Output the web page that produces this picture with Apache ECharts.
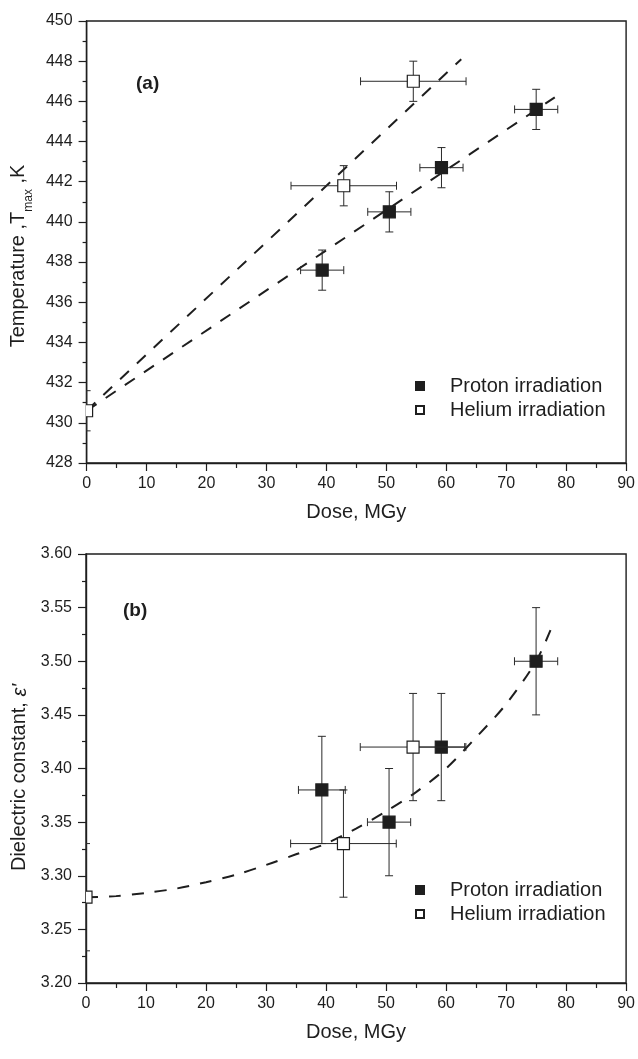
<!DOCTYPE html>
<html>
<head>
<meta charset="utf-8">
<script src="https://cdn.jsdelivr.net/npm/echarts@6/dist/echarts.min.js"></script>
<style>
  html, body { margin: 0; padding: 0; background: #ffffff; }
  #chart { width: 638px; height: 1059px; }
</style>
</head>
<body>
<div id="chart"></div>
<script>
// ---------- Panel (a): Tmax vs dose ----------
const protonDoseA     = [39.3, 50.5, 59.2, 75.0];
const protonDoseErrA  = [3.6, 3.6, 3.6, 3.6];
const protonTmax      = [437.6, 440.5, 442.7, 445.6];
const protonTmaxErr   = [1.0, 1.0, 1.0, 1.0];

const heliumDoseA     = [0, 42.9, 54.5];
const heliumDoseErrA  = [0, 8.8, 8.8];
const heliumTmax      = [430.6, 441.8, 447.0];
const heliumTmaxErr   = [1.0, 1.0, 1.0];

const protonFitDoseA  = [0, 78.1];
const protonFitTmax   = [430.6, 446.2];
const heliumFitDoseA  = [0, 62.5];
const heliumFitTmax   = [430.6, 448.1];

// ---------- Panel (b): dielectric constant vs dose ----------
const protonDoseB     = [39.3, 50.5, 59.2, 75.0];
const protonDoseErrB  = [3.9, 3.6, 3.9, 3.6];
const protonEps       = [3.38, 3.35, 3.42, 3.50];
const protonEpsErr    = [0.05, 0.05, 0.05, 0.05];

const heliumDoseB     = [0, 42.9, 54.5];
const heliumDoseErrB  = [0, 8.8, 8.8];
const heliumEps       = [3.28, 3.33, 3.42];
const heliumEpsErr    = [0.05, 0.05, 0.05];

const fitDoseB = [0, 5, 10, 15, 20, 25, 30, 35, 40, 45, 50, 55, 60, 65, 70, 75, 77.7];
const fitEps   = [3.280, 3.281, 3.284, 3.288, 3.294, 3.301, 3.310, 3.320, 3.330, 3.344, 3.360, 3.378, 3.400, 3.429, 3.460, 3.500, 3.533];

// ---------- Axes ----------
const doseMin = 0, doseMax = 90, doseStep = 10;
const tmaxMin = 428, tmaxMax = 450, tmaxStep = 2;
const epsMin = 3.20, epsMax = 3.60, epsStep = 0.05;

const seriesNames = ['Proton irradiation', 'Helium irradiation'];

// ---------- helpers ----------
const FONT = 'Liberation Sans, Arial, Helvetica, sans-serif';
const INK = '#1e1e1e';
const DASH = [12, 11];

function rows(xs, ys, exs, eys) {
  return xs.map((x, i) => [x, ys[i], exs[i], eys[i]]);
}
function pairs(xs, ys) {
  return xs.map((x, i) => [x, ys[i]]);
}

function errorRenderer(fill, stroke) {
  return function (params, api) {
    const x = api.value(0), y = api.value(1), ex = api.value(2), ey = api.value(3);
    const p = api.coord([x, y]);
    const cap = 4, half = 6;
    const ls = { stroke: '#2a2a2a', lineWidth: 1 };
    const ch = [];
    if (ex > 0) {
      const l = api.coord([x - ex, y]);
      const r = api.coord([x + ex, y]);
      ch.push({ type: 'line', shape: { x1: l[0], y1: l[1], x2: r[0], y2: r[1] }, style: ls });
      ch.push({ type: 'line', shape: { x1: l[0], y1: l[1] - cap, x2: l[0], y2: l[1] + cap }, style: ls });
      ch.push({ type: 'line', shape: { x1: r[0], y1: r[1] - cap, x2: r[0], y2: r[1] + cap }, style: ls });
    }
    if (ey > 0) {
      const t = api.coord([x, y + ey]);
      const b = api.coord([x, y - ey]);
      ch.push({ type: 'line', shape: { x1: t[0], y1: t[1], x2: b[0], y2: b[1] }, style: ls });
      ch.push({ type: 'line', shape: { x1: t[0] - cap, y1: t[1], x2: t[0] + cap, y2: t[1] }, style: ls });
      ch.push({ type: 'line', shape: { x1: b[0] - cap, y1: b[1], x2: b[0] + cap, y2: b[1] }, style: ls });
    }
    ch.push({
      type: 'rect',
      shape: { x: p[0] - half, y: p[1] - half, width: half * 2, height: half * 2 },
      style: { fill: fill, stroke: stroke, lineWidth: 1.2 }
    });
    return { type: 'group', children: ch };
  };
}

function xAxisCfg(gridIndex) {
  return {
    type: 'value', gridIndex: gridIndex,
    min: doseMin, max: doseMax, interval: doseStep,
    name: 'Dose, MGy', nameLocation: 'middle', nameGap: 39,
    nameTextStyle: { fontFamily: FONT, fontSize: 20, color: INK },
    axisLine: { show: true, onZero: false, lineStyle: { color: INK, width: 1.4 } },
    axisTick: { show: true, inside: false, length: 8, lineStyle: { color: INK, width: 1.2 } },
    minorTick: { show: true, splitNumber: 2, length: 5, lineStyle: { color: INK, width: 1.2 } },
    splitLine: { show: false },
    axisLabel: { margin: 13, fontFamily: FONT, fontSize: 16, color: INK }
  };
}

function yAxisCfg(gridIndex, min, max, step, name, nameGap, pad, rich, decimals) {
  return {
    type: 'value', gridIndex: gridIndex,
    min: min, max: max, interval: step,
    name: name, nameLocation: 'middle', nameGap: nameGap,
    nameTextStyle: { fontFamily: FONT, fontSize: 20, color: INK, padding: pad, rich: rich },
    axisLine: { show: true, onZero: false, lineStyle: { color: INK, width: 1.4 } },
    axisTick: { show: true, inside: false, length: 8, lineStyle: { color: INK, width: 1.2 } },
    minorTick: { show: true, splitNumber: 2, length: 4, lineStyle: { color: INK, width: 1.2 } },
    splitLine: { show: false },
    axisLabel: {
      margin: 14, fontFamily: FONT, fontSize: 16, color: INK,
      formatter: v => v.toFixed(decimals)
    }
  };
}

function legendCfg(top) {
  return {
    orient: 'vertical', left: 415, top: top, padding: 0,
    itemWidth: 8, itemHeight: 8, itemGap: 4,
    selectedMode: false,
    textStyle: { fontFamily: FONT, fontSize: 20, color: INK, lineHeight: 20, padding: [0, 0, 0, 21] },
    data: [
      { name: seriesNames[0], icon: 'rect' },
      { name: seriesNames[1], icon: 'rect' }
    ]
  };
}

const chart = echarts.init(document.getElementById('chart'), null, { renderer: 'canvas' });

const option = {
  backgroundColor: '#ffffff',
  animation: false,
  grid: [
    { left: 86, right: 10, top: 21, height: 442, show: true, borderColor: INK, borderWidth: 1.4, backgroundColor: 'transparent' },
    { left: 86, right: 10, top: 554, height: 429, show: true, borderColor: INK, borderWidth: 1.4, backgroundColor: 'transparent' }
  ],
  xAxis: [xAxisCfg(0), xAxisCfg(1)],
  yAxis: [
    yAxisCfg(0, tmaxMin, tmaxMax, tmaxStep,
      'Temperature ,T{sub|max} ,K', 47, [0, 28, 0, 0],
      { sub: { fontFamily: FONT, fontSize: 12, lineHeight: 12, verticalAlign: 'top', padding: [15, 0, 0, 0], color: INK } }, 0),
    yAxisCfg(1, epsMin, epsMax, epsStep,
      'Dielectric constant, {it|ε\'}', 56, [0, 18, 0, 0],
      { it: { fontFamily: FONT, fontSize: 20, fontStyle: 'italic', color: INK } }, 2)
  ],
  legend: [legendCfg(376), legendCfg(880)],
  graphic: [
    { type: 'text', left: 136, top: 74, style: { text: '(a)', font: 'bold 19px ' + FONT, fill: INK } },
    { type: 'text', left: 123, top: 601, style: { text: '(b)', font: 'bold 19px ' + FONT, fill: INK } }
  ],
  series: [
    // fit lines
    { type: 'line', name: 'Proton fit (a)', xAxisIndex: 0, yAxisIndex: 0, data: pairs(protonFitDoseA, protonFitTmax),
      showSymbol: false, symbol: 'none', z: 2, lineStyle: { color: INK, width: 2, type: DASH } },
    { type: 'line', name: 'Helium fit (a)', xAxisIndex: 0, yAxisIndex: 0, data: pairs(heliumFitDoseA, heliumFitTmax),
      showSymbol: false, symbol: 'none', z: 2, lineStyle: { color: INK, width: 2, type: DASH } },
    { type: 'line', name: 'Fit (b)', xAxisIndex: 1, yAxisIndex: 1, data: pairs(fitDoseB, fitEps), smooth: 0.3,
      showSymbol: false, symbol: 'none', z: 2, lineStyle: { color: INK, width: 2, type: DASH } },
    // data with error bars
    { type: 'custom', name: seriesNames[0], xAxisIndex: 0, yAxisIndex: 0, clip: true, z: 3,
      itemStyle: { color: INK, borderColor: INK, borderWidth: 1 },
      encode: { x: 0, y: 1 }, renderItem: errorRenderer(INK, INK),
      data: rows(protonDoseA, protonTmax, protonDoseErrA, protonTmaxErr) },
    { type: 'custom', name: seriesNames[1], xAxisIndex: 0, yAxisIndex: 0, clip: true, z: 3,
      itemStyle: { color: '#ffffff', borderColor: INK, borderWidth: 1 },
      encode: { x: 0, y: 1 }, renderItem: errorRenderer('#ffffff', INK),
      data: rows(heliumDoseA, heliumTmax, heliumDoseErrA, heliumTmaxErr) },
    { type: 'custom', name: seriesNames[0], xAxisIndex: 1, yAxisIndex: 1, clip: true, z: 3,
      itemStyle: { color: INK, borderColor: INK, borderWidth: 1 },
      encode: { x: 0, y: 1 }, renderItem: errorRenderer(INK, INK),
      data: rows(protonDoseB, protonEps, protonDoseErrB, protonEpsErr) },
    { type: 'custom', name: seriesNames[1], xAxisIndex: 1, yAxisIndex: 1, clip: true, z: 3,
      itemStyle: { color: '#ffffff', borderColor: INK, borderWidth: 1 },
      encode: { x: 0, y: 1 }, renderItem: errorRenderer('#ffffff', INK),
      data: rows(heliumDoseB, heliumEps, heliumDoseErrB, heliumEpsErr) }
  ]
};

chart.setOption(option);
</script>
</body>
</html>
